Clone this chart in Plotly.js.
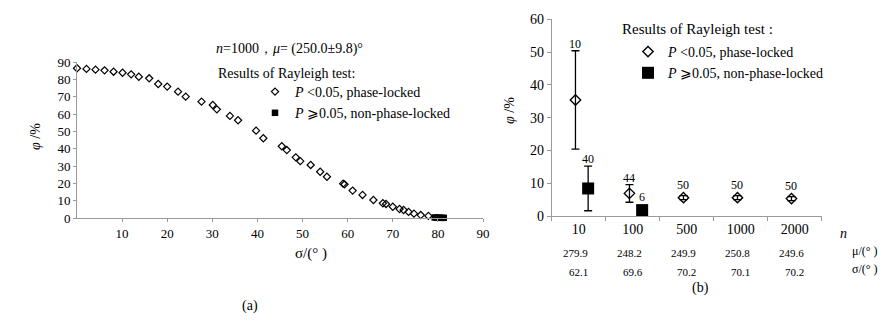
<!DOCTYPE html>
<html>
<head>
<meta charset="utf-8">
<script src="https://cdn.plot.ly/plotly-3.0.1.min.js"></script>
<style>html,body{margin:0;padding:0;background:#fff;}#chart{width:895px;height:336px;}</style>
</head>
<body>
<div id="chart"></div>
<script>
// ---- Panel (a): n = 1000 ----
const sigmaLocked = [0, 2.1, 4.1, 6.1, 8.1, 10.1, 12.0, 13.7, 16.0, 18.0, 20.0, 22.4, 24.1, 27.6, 30.1, 31.0, 33.9, 35.7, 39.7, 41.3, 45.4, 46.5, 48.5, 49.5, 51.8, 53.9, 55.4, 59.0, 59.3, 61.1, 63.3, 65.7, 67.8, 68.5, 70.0, 71.5, 72.4, 73.5, 74.7, 76.2, 77.9];
const phiLocked   = [86.4, 86.0, 85.6, 85.2, 84.4, 83.8, 82.9, 81.5, 80.6, 77.3, 75.8, 72.9, 70.0, 67.1, 65.2, 62.7, 58.9, 56.4, 50.4, 46.0, 41.4, 39.2, 35.0, 32.8, 30.6, 26.7, 23.8, 19.8, 19.4, 15.8, 13.3, 10.4, 8.5, 8.1, 6.5, 5.2, 4.6, 3.5, 2.5, 1.7, 1.2];
const sigmaNonLocked = [79.3, 79.8, 80.3, 80.8, 81.3];
const phiNonLocked   = [0.3, 0.2, 0.2, 0.1, 0.1];

// ---- Panel (b): varying n ----
const nLabels   = ['10', '100', '500', '1000', '2000'];
const muLabels  = ['279.9', '248.2', '249.9', '250.8', '249.6'];
const sdLabels  = ['62.1', '69.6', '70.2', '70.1', '70.2'];
const phiB_locked = [35.4, 6.9, 5.6, 5.6, 5.3];
const errB_locked = [15.0, 2.7, 0.6, 0.6, 0.6];
const cntB_locked = ['10', '44', '50', '50', '50'];
const phiB_non = [8.4, 1.8];
const errB_non = [6.8, 0];
const cntB_non = ['40', '6'];

const W = 895, H = 336;
const px = v => v / W;
const py = v => 1 - v / H;
const FONT = 'Liberation Serif, Times New Roman, serif';
const AX = '#9a9a9a';

const Y2_TOP = 19.3, Y2_BOT = 216, Y2_MAX = 60;
const pxPerUnit2 = (Y2_BOT - Y2_TOP) / Y2_MAX;

const idxL = nLabels.map((_, i) => i);
const idxN = phiB_non.map((_, i) => i);
const offL = -0.06, offN = 0.175;
const DIA_B = 8, SQ_B = 12;

const traces = [
  {x: sigmaLocked, y: phiLocked, xaxis: 'x', yaxis: 'y', mode: 'markers', type: 'scatter', cliponaxis: false,
   name: '<i>P</i> <0.05, phase-locked', legend: 'legend',
   marker: {symbol: 'diamond-open', size: 5.5, color: '#000', line: {color: '#000', width: 1.2}}},
  {x: sigmaNonLocked, y: phiNonLocked, xaxis: 'x', yaxis: 'y', mode: 'markers', type: 'scatter', cliponaxis: false,
   name: '<i>P</i> ⩾0.05, non-phase-locked', legend: 'legend',
   marker: {symbol: 'square', size: 6.5, color: '#000'}},
  {x: idxL.map(i => i + offL), y: phiB_locked, xaxis: 'x2', yaxis: 'y2', mode: 'markers', type: 'scatter', cliponaxis: false,
   name: '<i>P</i> <0.05, phase-locked', legend: 'legend2',
   error_y: {type: 'data', array: errB_locked, visible: true, color: '#000', thickness: 1.3, width: 4},
   marker: {symbol: 'diamond-open', size: DIA_B, color: '#000', line: {color: '#000', width: 1.4}}},
  {x: idxN.map(i => i + offN), y: phiB_non, xaxis: 'x2', yaxis: 'y2', mode: 'markers', type: 'scatter', cliponaxis: false,
   name: '<i>P</i> ⩾0.05, non-phase-locked', legend: 'legend2',
   error_y: {type: 'data', array: errB_non, visible: true, color: '#000', thickness: 1.3, width: 4},
   marker: {symbol: 'square', size: SQ_B, color: '#000'}}
];

const ann = [];
function A(text, x, y, size, opts) {
  ann.push(Object.assign({text: text, x: px(x), y: py(y), xref: 'paper', yref: 'paper', xanchor: 'center', yanchor: 'middle',
    showarrow: false, font: {family: FONT, size: size, color: '#000'}}, opts || {}));
}

A('<i>n</i>=1000，<i>μ</i>= (250.0±9.8)°', 214, 49, 14, {xanchor: 'left'});
A('Results of Rayleigh test:', 216, 73, 14, {xanchor: 'left'});
A('Results of Rayleigh test :', 620, 29, 15, {xanchor: 'left'});
A('<i>φ</i> /%', 35, 137, 14, {textangle: -90});
A('<i>φ</i> /%', 510, 110, 14, {textangle: -90});
A('σ/(° )', 311, 253, 15);
A('(a)', 250, 306, 14);
A('(b)', 700, 288, 14);
A('<i>n</i>', 838, 233, 14, {xanchor: 'left'});
A('μ/(° )', 850, 251, 12, {xanchor: 'left'});
A('σ/(° )', 850, 269, 12, {xanchor: 'left'});

muLabels.forEach((t, i) => ann.push({text: t, x: i, xref: 'x2', y: py(253), yref: 'paper', xanchor: 'center', yanchor: 'middle',
  xshift: -3, showarrow: false, font: {family: FONT, size: 11, color: '#000'}}));
sdLabels.forEach((t, i) => ann.push({text: t, x: i, xref: 'x2', y: py(272), yref: 'paper', xanchor: 'center', yanchor: 'middle',
  showarrow: false, font: {family: FONT, size: 11, color: '#000'}}));

function countLabel(t, x, y, err, half) {
  const up = Math.max(err * pxPerUnit2, half) + 7;
  ann.push({text: t, x: x, xref: 'x2', y: y, yref: 'y2', xanchor: 'center', yanchor: 'middle', yshift: up,
    showarrow: false, font: {family: FONT, size: 12, color: '#000'}});
}
cntB_locked.forEach((t, i) => countLabel(t, i + offL, phiB_locked[i], errB_locked[i], DIA_B * 0.65));
cntB_non.forEach((t, i) => countLabel(t, i + offN, phiB_non[i], errB_non[i], SQ_B / 2));

const layout = {
  width: W, height: H,
  margin: {l: 0, r: 0, t: 0, b: 0},
  paper_bgcolor: '#fff', plot_bgcolor: 'rgba(0,0,0,0)',
  font: {family: FONT, size: 12, color: '#000'},
  xaxis: {domain: [px(77), px(483)], range: [0, 90], tickmode: 'array', tickvals: [10, 20, 30, 40, 50, 60, 70, 80, 90],
          showline: true, linecolor: AX, linewidth: 1, ticks: 'outside', ticklen: 3, tickcolor: AX, showgrid: false, zeroline: false,
          tickfont: {family: FONT, size: 13}, anchor: 'y'},
  yaxis: {domain: [1 - 218 / H, 1 - 62 / H], range: [0, 90], dtick: 10, showline: true, linecolor: AX, linewidth: 1,
          ticks: 'outside', ticklen: 3, tickcolor: AX, showgrid: false, zeroline: false, tickfont: {family: FONT, size: 13}, anchor: 'x'},
  xaxis2: {domain: [px(551.7), px(821.7)], range: [-0.5, 4.5], tickmode: 'array', tickvals: idxL, ticktext: nLabels, ticks: '',
           minor: {tickmode: 'linear', tick0: -0.5, dtick: 1, ticks: 'outside', ticklen: 4, tickcolor: AX},
           showline: true, linecolor: AX, linewidth: 1, showgrid: false, zeroline: false, tickfont: {family: FONT, size: 14}, anchor: 'y2'},
  yaxis2: {domain: [1 - Y2_BOT / H, 1 - Y2_TOP / H], range: [0, Y2_MAX], dtick: 10, showline: true, linecolor: AX, linewidth: 1,
           ticks: 'outside', ticklen: 4, tickcolor: AX, showgrid: false, zeroline: false, tickfont: {family: FONT, size: 14}, anchor: 'x2'},
  showlegend: true,
  legend: {x: px(255), y: py(76), xanchor: 'left', yanchor: 'top', bgcolor: 'rgba(0,0,0,0)', font: {family: FONT, size: 14}, itemwidth: 30, tracegroupgap: 0},
  legend2: {x: px(628), y: py(36), xanchor: 'left', yanchor: 'top', bgcolor: 'rgba(0,0,0,0)', font: {family: FONT, size: 14}, itemwidth: 30, tracegroupgap: 0},
  annotations: ann
};

Plotly.newPlot('chart', traces, layout, {staticPlot: true, displayModeBar: false});
</script>
</body>
</html>
